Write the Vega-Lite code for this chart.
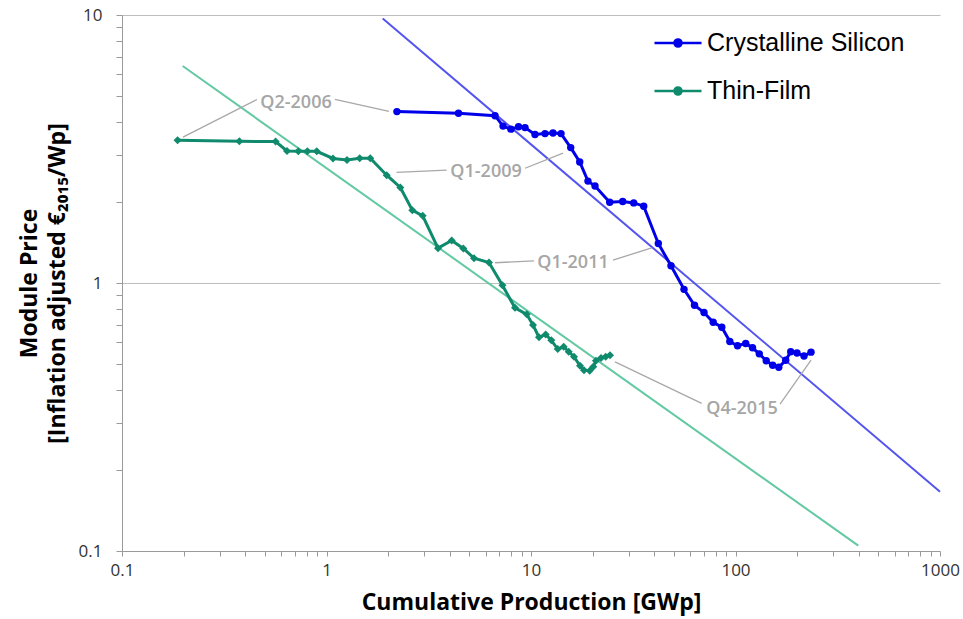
{
  "$schema": "https://vega.github.io/schema/vega-lite/v6.json",
  "width": 818,
  "height": 536,
  "autosize": "none",
  "padding": {"left": 122, "top": 15, "right": 23, "bottom": 68},
  "background": "white",
  "config": {
    "view": {"stroke": null},
    "font": "Open Sans",
    "axis": {
      "domainColor": "#9a9a9a",
      "tickColor": "#9a9a9a",
      "labelFont": "Open Sans",
      "labelFontSize": 17,
      "labelColor": "#333333",
      "titleFont": "Open Sans",
      "titleFontSize": 23,
      "titleFontWeight": "bold",
      "titleColor": "#000000"
    }
  },
  "datasets": {
    "prices": [
      {"s": "Crystalline Silicon", "q": "Q2-2006", "x": 2.21, "y": 4.36},
      {"s": "Crystalline Silicon", "q": "Q3-2006", "x": 4.42, "y": 4.30},
      {"s": "Crystalline Silicon", "q": "Q4-2006", "x": 6.67, "y": 4.21},
      {"s": "Crystalline Silicon", "q": "Q1-2007", "x": 7.30, "y": 3.85},
      {"s": "Crystalline Silicon", "q": "Q2-2007", "x": 7.98, "y": 3.75},
      {"s": "Crystalline Silicon", "q": "Q3-2007", "x": 8.69, "y": 3.83},
      {"s": "Crystalline Silicon", "q": "Q4-2007", "x": 9.35, "y": 3.80},
      {"s": "Crystalline Silicon", "q": "Q1-2008", "x": 10.46, "y": 3.58},
      {"s": "Crystalline Silicon", "q": "Q2-2008", "x": 11.71, "y": 3.61},
      {"s": "Crystalline Silicon", "q": "Q3-2008", "x": 12.81, "y": 3.63},
      {"s": "Crystalline Silicon", "q": "Q4-2008", "x": 14.02, "y": 3.61},
      {"s": "Crystalline Silicon", "q": "Q1-2009", "x": 15.64, "y": 3.20},
      {"s": "Crystalline Silicon", "q": "Q2-2009", "x": 17.31, "y": 2.83},
      {"s": "Crystalline Silicon", "q": "Q3-2009", "x": 18.99, "y": 2.40},
      {"s": "Crystalline Silicon", "q": "Q4-2009", "x": 20.56, "y": 2.30},
      {"s": "Crystalline Silicon", "q": "Q1-2010", "x": 24.26, "y": 2.00},
      {"s": "Crystalline Silicon", "q": "Q2-2010", "x": 28.08, "y": 2.015},
      {"s": "Crystalline Silicon", "q": "Q3-2010", "x": 31.78, "y": 1.99},
      {"s": "Crystalline Silicon", "q": "Q4-2010", "x": 35.57, "y": 1.935},
      {"s": "Crystalline Silicon", "q": "Q1-2011", "x": 41.93, "y": 1.405},
      {"s": "Crystalline Silicon", "q": "Q2-2011", "x": 48.37, "y": 1.159},
      {"s": "Crystalline Silicon", "q": "Q3-2011", "x": 56.0, "y": 0.947},
      {"s": "Crystalline Silicon", "q": "Q4-2011", "x": 63.03, "y": 0.826},
      {"s": "Crystalline Silicon", "q": "Q1-2012", "x": 70.15, "y": 0.776},
      {"s": "Crystalline Silicon", "q": "Q2-2012", "x": 77.8, "y": 0.714},
      {"s": "Crystalline Silicon", "q": "Q3-2012", "x": 85.7, "y": 0.684},
      {"s": "Crystalline Silicon", "q": "Q4-2012", "x": 93.8, "y": 0.605},
      {"s": "Crystalline Silicon", "q": "Q1-2013", "x": 102.3, "y": 0.583},
      {"s": "Crystalline Silicon", "q": "Q2-2013", "x": 112.2, "y": 0.595},
      {"s": "Crystalline Silicon", "q": "Q3-2013", "x": 121.1, "y": 0.573},
      {"s": "Crystalline Silicon", "q": "Q4-2013", "x": 130.7, "y": 0.544},
      {"s": "Crystalline Silicon", "q": "Q1-2014", "x": 141.3, "y": 0.513},
      {"s": "Crystalline Silicon", "q": "Q2-2014", "x": 152.0, "y": 0.493},
      {"s": "Crystalline Silicon", "q": "Q3-2014", "x": 162.8, "y": 0.485},
      {"s": "Crystalline Silicon", "q": "Q4-2014", "x": 176.0, "y": 0.515},
      {"s": "Crystalline Silicon", "q": "Q1-2015", "x": 186.2, "y": 0.554},
      {"s": "Crystalline Silicon", "q": "Q2-2015", "x": 199.9, "y": 0.548},
      {"s": "Crystalline Silicon", "q": "Q3-2015", "x": 216.3, "y": 0.534},
      {"s": "Crystalline Silicon", "q": "Q4-2015", "x": 234.0, "y": 0.552},
      {"s": "Thin-Film", "q": "Q2-2006", "x": 0.187, "y": 3.41},
      {"s": "Thin-Film", "q": "Q3-2006", "x": 0.375, "y": 3.38},
      {"s": "Thin-Film", "q": "Q4-2006", "x": 0.564, "y": 3.37},
      {"s": "Thin-Film", "q": "Q1-2007", "x": 0.641, "y": 3.11},
      {"s": "Thin-Film", "q": "Q2-2007", "x": 0.728, "y": 3.10},
      {"s": "Thin-Film", "q": "Q3-2007", "x": 0.806, "y": 3.10},
      {"s": "Thin-Film", "q": "Q4-2007", "x": 0.896, "y": 3.10},
      {"s": "Thin-Film", "q": "Q1-2008", "x": 1.076, "y": 2.915},
      {"s": "Thin-Film", "q": "Q2-2008", "x": 1.26, "y": 2.88},
      {"s": "Thin-Film", "q": "Q3-2008", "x": 1.453, "y": 2.92},
      {"s": "Thin-Film", "q": "Q4-2008", "x": 1.637, "y": 2.92},
      {"s": "Thin-Film", "q": "Q1-2009", "x": 1.97, "y": 2.525},
      {"s": "Thin-Film", "q": "Q2-2009", "x": 2.296, "y": 2.272},
      {"s": "Thin-Film", "q": "Q3-2009", "x": 2.628, "y": 1.87},
      {"s": "Thin-Film", "q": "Q4-2009", "x": 2.954, "y": 1.781},
      {"s": "Thin-Film", "q": "Q1-2010", "x": 3.51, "y": 1.349},
      {"s": "Thin-Film", "q": "Q2-2010", "x": 4.095, "y": 1.441},
      {"s": "Thin-Film", "q": "Q3-2010", "x": 4.667, "y": 1.346},
      {"s": "Thin-Film", "q": "Q4-2010", "x": 5.265, "y": 1.238},
      {"s": "Thin-Film", "q": "Q1-2011", "x": 6.23, "y": 1.193},
      {"s": "Thin-Film", "q": "Q2-2011", "x": 7.25, "y": 0.98},
      {"s": "Thin-Film", "q": "Q3-2011", "x": 8.35, "y": 0.808},
      {"s": "Thin-Film", "q": "Q4-2011", "x": 9.53, "y": 0.764},
      {"s": "Thin-Film", "q": "Q1-2012", "x": 10.23, "y": 0.697},
      {"s": "Thin-Film", "q": "Q2-2012", "x": 10.94, "y": 0.627},
      {"s": "Thin-Film", "q": "Q3-2012", "x": 11.80, "y": 0.643},
      {"s": "Thin-Film", "q": "Q4-2012", "x": 12.57, "y": 0.611},
      {"s": "Thin-Film", "q": "Q1-2013", "x": 13.51, "y": 0.567},
      {"s": "Thin-Film", "q": "Q2-2013", "x": 14.45, "y": 0.578},
      {"s": "Thin-Film", "q": "Q3-2013", "x": 15.29, "y": 0.554},
      {"s": "Thin-Film", "q": "Q4-2013", "x": 16.23, "y": 0.531},
      {"s": "Thin-Film", "q": "Q1-2014", "x": 17.36, "y": 0.491},
      {"s": "Thin-Film", "q": "Q2-2014", "x": 18.16, "y": 0.473},
      {"s": "Thin-Film", "q": "Q3-2014", "x": 19.36, "y": 0.471},
      {"s": "Thin-Film", "q": "Q4-2014", "x": 20.16, "y": 0.487},
      {"s": "Thin-Film", "q": "Q1-2015", "x": 20.78, "y": 0.513},
      {"s": "Thin-Film", "q": "Q2-2015", "x": 21.99, "y": 0.525},
      {"s": "Thin-Film", "q": "Q3-2015", "x": 23.19, "y": 0.531},
      {"s": "Thin-Film", "q": "Q4-2015", "x": 24.34, "y": 0.537}
    ],
    "trend": [
      {"s": "Crystalline Silicon", "x": 1.883, "y": 9.70},
      {"s": "Crystalline Silicon", "x": 1000, "y": 0.1665},
      {"s": "Thin-Film", "x": 0.198, "y": 6.45},
      {"s": "Thin-Film", "x": 398.6, "y": 0.1047}
    ],
    "labels": [
      {"text": "Q2-2006", "x": 0.7095, "y": 4.69},
      {"text": "Q1-2009", "x": 6.03, "y": 2.60},
      {"text": "Q1-2011", "x": 16.05, "y": 1.19},
      {"text": "Q4-2015", "x": 107.6, "y": 0.3387}
    ],
    "leaders": [
      {"x": 0.1987, "y": 3.50, "x2": 0.457, "y2": 4.84},
      {"x": 1.10, "y": 4.84, "x2": 2.02, "y2": 4.37},
      {"x": 2.20, "y": 2.585, "x2": 3.87, "y2": 2.636},
      {"x": 9.35, "y": 2.68, "x2": 14.34, "y2": 3.05},
      {"x": 6.67, "y": 1.19, "x2": 10.34, "y2": 1.21},
      {"x": 25.18, "y": 1.217, "x2": 38.92, "y2": 1.353},
      {"x": 25.75, "y": 0.508, "x2": 68.33, "y2": 0.3557},
      {"x": 165.1, "y": 0.3535, "x2": 234.0, "y2": 0.516}
    ]
  },
  "layer": [
    {
      "data": {"name": "trend"},
      "transform": [{"filter": "datum.s == 'Thin-Film'"}],
      "mark": {"type": "line", "color": "#62c9a2", "strokeWidth": 2},
      "encoding": {
        "x": {
          "field": "x",
          "type": "quantitative",
          "scale": {"type": "log", "domain": [0.1, 1000], "nice": false},
          "axis": {
            "title": "Cumulative Production [GWp]",
            "values": [0.1, 0.2, 0.3, 0.4, 0.5, 0.6, 0.7, 0.8, 0.9, 1, 2, 3, 4, 5, 6, 7, 8, 9, 10, 20, 30, 40, 50, 60, 70, 80, 90, 100, 200, 300, 400, 500, 600, 700, 800, 900, 1000],
            "labelExpr": "indexof([0.1, 1, 10, 100, 1000], datum.value) >= 0 ? format(datum.value, '~g') : ''",
            "grid": false,
            "tickSize": 5,
            "labelPadding": 6,
            "labelFlush": false,
            "labelOverlap": false,
            "titlePadding": 13
          }
        },
        "y": {
          "field": "y",
          "type": "quantitative",
          "scale": {"type": "log", "domain": [0.1, 10], "nice": false},
          "axis": {
            "title": ["Module Price", "[Inflation adjusted €₂₀₁₅/Wp]"],
            "titleLineHeight": 28,
            "values": [0.1, 0.2, 0.3, 0.4, 0.5, 0.6, 0.7, 0.8, 0.9, 1, 2, 3, 4, 5, 6, 7, 8, 9, 10],
            "labelExpr": "indexof([0.1, 1, 10], datum.value) >= 0 ? format(datum.value, '~g') : ''",
            "grid": true,
            "gridColor": {"condition": {"test": "indexof([1, 10], datum.value) >= 0", "value": "#bdbdbd"}, "value": "transparent"},
            "gridWidth": 1.2,
            "tickSize": 6,
            "labelPadding": 14,
            "labelFlush": false,
            "labelOverlap": false,
            "titlePadding": 9
          }
        }
      }
    },
    {
      "data": {"name": "trend"},
      "transform": [{"filter": "datum.s == 'Crystalline Silicon'"}],
      "mark": {"type": "line", "color": "#5454ee", "strokeWidth": 2},
      "encoding": {
        "x": {"field": "x", "type": "quantitative"},
        "y": {"field": "y", "type": "quantitative"}
      }
    },
    {
      "data": {"name": "leaders"},
      "mark": {"type": "rule", "color": "#a8a8a8", "strokeWidth": 1.3},
      "encoding": {
        "x": {"field": "x", "type": "quantitative"},
        "y": {"field": "y", "type": "quantitative"},
        "x2": {"field": "x2"},
        "y2": {"field": "y2"}
      }
    },
    {
      "data": {"name": "labels"},
      "mark": {"type": "text", "font": "Open Sans", "fontSize": 18, "fontWeight": 600, "color": "#a6a6a6", "align": "center", "baseline": "middle"},
      "encoding": {
        "x": {"field": "x", "type": "quantitative"},
        "y": {"field": "y", "type": "quantitative"},
        "text": {"field": "text"}
      }
    },
    {
      "data": {"name": "prices"},
      "encoding": {
        "x": {"field": "x", "type": "quantitative"},
        "y": {"field": "y", "type": "quantitative"},
        "color": {
          "field": "s",
          "type": "nominal",
          "scale": {"domain": ["Crystalline Silicon", "Thin-Film"], "range": ["#0000e8", "#0f8a6c"]},
          "legend": {
            "title": null,
            "orient": "none",
            "legendX": 531,
            "legendY": 3,
            "padding": 0,
            "symbolType": "M-1,0H1M0.15,0A0.15,0.15,0,1,1,-0.15,0A0.15,0.15,0,1,1,0.15,0Z",
            "symbolSize": 2209,
            "symbolStrokeWidth": 2.5,
            "symbolOpacity": 1,
            "labelFont": "Liberation Sans",
            "labelFontSize": 25,
            "labelLimit": 0,
            "labelColor": "#000000",
            "labelOffset": 4,
            "rowPadding": 10,
            "encode": {
              "symbols": {
                "update": {
                  "fill": {"scale": "color", "field": "value"},
                  "stroke": {"scale": "color", "field": "value"}
                }
              }
            }
          }
        }
      },
      "layer": [
        {"mark": {"type": "line", "strokeWidth": 3}},
        {
          "transform": [{"filter": "datum.s == 'Crystalline Silicon'"}],
          "mark": {"type": "point", "shape": "circle", "filled": true, "opacity": 1, "size": 55}
        },
        {
          "transform": [{"filter": "datum.s == 'Thin-Film'"}],
          "mark": {"type": "point", "shape": "diamond", "filled": true, "opacity": 1, "size": 64}
        }
      ]
    }
  ]
}
